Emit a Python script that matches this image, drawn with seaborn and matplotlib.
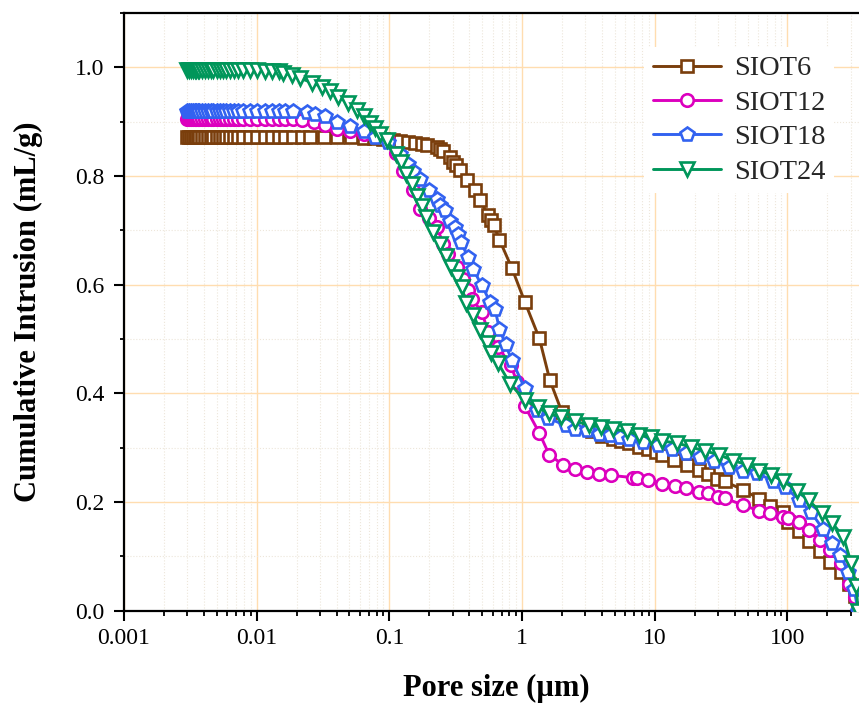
import numpy as np
import pandas as pd
import matplotlib
matplotlib.use("Agg")
import matplotlib.pyplot as plt
import seaborn as sns
from matplotlib.ticker import LogLocator, MultipleLocator, NullFormatter, FixedLocator, FixedFormatter

# ---------------- data ----------------
series_names = ["SIOT6", "SIOT12", "SIOT18", "SIOT24"]

x_siot6 = [0.0030, 0.0031, 0.0032, 0.0033, 0.0034, 0.0035, 0.0036, 0.0037, 0.0039, 0.0041,
           0.0043, 0.0045, 0.0047, 0.0050, 0.0053, 0.0056, 0.0059, 0.0063, 0.0067, 0.0072,
           0.0079, 0.0089, 0.0100, 0.0115, 0.0130, 0.0146, 0.0163, 0.0189, 0.0218, 0.0252,
           0.0320, 0.0400, 0.0510, 0.0640, 0.0760, 0.0900, 0.107, 0.120, 0.139, 0.156,
           0.176, 0.191, 0.228, 0.240, 0.254, 0.286, 0.302, 0.318, 0.339, 0.386,
           0.441, 0.481, 0.555, 0.588, 0.612, 0.674, 0.836, 1.05, 1.35, 1.62,
           2.0, 2.6, 3.35, 4.0, 4.84, 5.6, 6.44, 7.6, 8.95, 10.2,
           11.4, 14.0, 17.6, 21.4, 25.0, 29.3, 33.8, 46.5, 61.3, 73.8,
           92.0, 101, 122, 146, 176, 209, 252, 292, 323, 340]
y_siot6 = [0.871, 0.871, 0.871, 0.871, 0.871, 0.871, 0.871, 0.871, 0.871, 0.871,
           0.871, 0.871, 0.871, 0.871, 0.871, 0.871, 0.871, 0.871, 0.871, 0.871,
           0.871, 0.871, 0.871, 0.871, 0.871, 0.871, 0.871, 0.871, 0.871, 0.871,
           0.871, 0.871, 0.871, 0.870, 0.870, 0.869, 0.867, 0.865, 0.862, 0.860,
           0.858, 0.857, 0.853, 0.849, 0.846, 0.835, 0.826, 0.820, 0.811, 0.793,
           0.775, 0.755, 0.729, 0.719, 0.710, 0.683, 0.631, 0.568, 0.501, 0.424,
           0.365, 0.342, 0.330, 0.322, 0.316, 0.312, 0.308, 0.302, 0.297, 0.292,
           0.287, 0.278, 0.268, 0.259, 0.252, 0.243, 0.238, 0.222, 0.206, 0.193,
           0.182, 0.164, 0.146, 0.129, 0.110, 0.090, 0.072, 0.050, 0.027, 0.000]

x_siot12 = [0.0030, 0.0031, 0.0032, 0.0033, 0.0034, 0.0035, 0.0036, 0.0037, 0.0039, 0.0041,
            0.0043, 0.0045, 0.0047, 0.0050, 0.0053, 0.0056, 0.0059, 0.0063, 0.0067, 0.0072,
            0.0079, 0.0089, 0.0100, 0.0115, 0.0130, 0.0146, 0.0163, 0.0189, 0.0218, 0.0268,
            0.0328, 0.0400, 0.0507, 0.0640, 0.0780, 0.0980, 0.112, 0.127, 0.150, 0.170,
            0.198, 0.228, 0.255, 0.278, 0.321, 0.360, 0.392, 0.418, 0.497, 0.555,
            0.662, 0.820, 0.920, 1.05, 1.35, 1.60, 2.05, 2.52, 3.09, 3.79,
            4.7, 6.8, 7.3, 8.9, 11.3, 14.3, 17.3, 21.4, 25.1, 30.0,
            34.0, 46.5, 61.0, 74.0, 92.0, 101, 122, 146, 176, 209,
            252, 292, 323, 340]
y_siot12 = [0.904, 0.904, 0.904, 0.904, 0.904, 0.904, 0.904, 0.904, 0.904, 0.904,
            0.904, 0.904, 0.904, 0.904, 0.904, 0.904, 0.904, 0.904, 0.904, 0.904,
            0.904, 0.904, 0.904, 0.904, 0.904, 0.904, 0.904, 0.904, 0.903, 0.899,
            0.893, 0.886, 0.882, 0.877, 0.873, 0.867, 0.842, 0.810, 0.775, 0.740,
            0.722, 0.706, 0.675, 0.657, 0.632, 0.610, 0.590, 0.574, 0.550, 0.513,
            0.485, 0.452, 0.420, 0.376, 0.327, 0.287, 0.268, 0.261, 0.256, 0.252,
            0.249, 0.245, 0.244, 0.240, 0.234, 0.229, 0.226, 0.219, 0.217, 0.209,
            0.207, 0.194, 0.184, 0.179, 0.173, 0.171, 0.164, 0.148, 0.130, 0.112,
            0.087, 0.050, 0.026, 0.000]

x_siot18 = [0.0030, 0.0031, 0.0032, 0.0033, 0.0034, 0.0035, 0.0036, 0.0037, 0.0039, 0.0041,
            0.0043, 0.0045, 0.0047, 0.0050, 0.0053, 0.0056, 0.0059, 0.0063, 0.0067, 0.0072,
            0.0079, 0.0089, 0.0100, 0.0115, 0.0130, 0.0146, 0.0163, 0.0189, 0.0238, 0.0275,
            0.0326, 0.0400, 0.0507, 0.0640, 0.0779, 0.0980, 0.120, 0.139, 0.151, 0.170,
            0.200, 0.228, 0.240, 0.262, 0.286, 0.311, 0.330, 0.345, 0.392, 0.428,
            0.497, 0.574, 0.624, 0.674, 0.750, 0.836, 1.05, 1.29, 1.58, 2.14,
            2.5, 3.06, 3.79, 4.6, 5.5, 6.44, 8.2, 10.5, 13.4, 17.2,
            22.0, 28.1, 36.0, 45.9, 58.6, 78.3, 96.0, 123, 151, 185,
            215, 250, 286, 318, 340]
y_siot18 = [0.920, 0.920, 0.920, 0.920, 0.920, 0.920, 0.920, 0.920, 0.920, 0.920,
            0.920, 0.920, 0.920, 0.920, 0.920, 0.920, 0.920, 0.920, 0.920, 0.920,
            0.920, 0.920, 0.920, 0.920, 0.920, 0.920, 0.920, 0.920, 0.918, 0.914,
            0.911, 0.900, 0.892, 0.883, 0.871, 0.862, 0.840, 0.822, 0.810, 0.795,
            0.775, 0.758, 0.746, 0.737, 0.718, 0.706, 0.694, 0.678, 0.651, 0.628,
            0.599, 0.568, 0.556, 0.519, 0.490, 0.461, 0.409, 0.369, 0.354, 0.341,
            0.335, 0.332, 0.326, 0.323, 0.319, 0.316, 0.310, 0.305, 0.298, 0.290,
            0.283, 0.276, 0.265, 0.258, 0.253, 0.239, 0.228, 0.203, 0.181, 0.150,
            0.125, 0.103, 0.072, 0.040, 0.000]

x_siot24 = [0.0030, 0.0031, 0.0032, 0.0033, 0.0034, 0.0035, 0.0036, 0.0037, 0.0039, 0.0041,
            0.0043, 0.0045, 0.0047, 0.0050, 0.0053, 0.0056, 0.0059, 0.0063, 0.0067, 0.0072,
            0.0079, 0.0089, 0.0100, 0.0115, 0.0130, 0.0146, 0.0157, 0.0185, 0.0212, 0.0260,
            0.0310, 0.0356, 0.0410, 0.0490, 0.0570, 0.0640, 0.0710, 0.0780, 0.0850, 0.0955,
            0.113, 0.122, 0.134, 0.147, 0.161, 0.176, 0.190, 0.214, 0.240, 0.268,
            0.292, 0.321, 0.350, 0.380, 0.428, 0.482, 0.540, 0.588, 0.662, 0.811,
            1.05, 1.31, 1.60, 1.97, 2.52, 3.22, 3.94, 4.84, 6.19, 7.59,
            9.32, 11.4, 14.6, 18.7, 23.9, 30.5, 39.0, 49.9, 61.2, 75.1,
            92.2, 118, 145, 182, 218, 264, 302, 330, 340]
y_siot24 = [0.995, 0.995, 0.995, 0.995, 0.995, 0.995, 0.995, 0.995, 0.995, 0.995,
            0.995, 0.995, 0.995, 0.995, 0.995, 0.995, 0.995, 0.995, 0.995, 0.995,
            0.995, 0.995, 0.995, 0.994, 0.994, 0.993, 0.990, 0.985, 0.980, 0.972,
            0.964, 0.956, 0.945, 0.935, 0.922, 0.910, 0.898, 0.888, 0.878, 0.866,
            0.840, 0.825, 0.803, 0.785, 0.763, 0.744, 0.725, 0.697, 0.674, 0.652,
            0.633, 0.614, 0.596, 0.566, 0.545, 0.516, 0.492, 0.474, 0.455, 0.418,
            0.387, 0.374, 0.363, 0.356, 0.349, 0.341, 0.338, 0.334, 0.330, 0.323,
            0.319, 0.312, 0.309, 0.301, 0.294, 0.287, 0.276, 0.269, 0.258, 0.250,
            0.239, 0.221, 0.203, 0.179, 0.161, 0.136, 0.088, 0.045, 0.000]

x_tick_values = [0.001, 0.01, 0.1, 1, 10, 100]
x_tick_labels = ["0.001", "0.01", "0.1", "1", "10", "100"]
y_tick_values = [0.0, 0.2, 0.4, 0.6, 0.8, 1.0]
y_tick_labels = ["0.0", "0.2", "0.4", "0.6", "0.8", "1.0"]

colors = ["#7A3E0C", "#DC00BE", "#3262F0", "#00965A"]
markers = ["s", "o", "p", "v"]
msizes = [8.0, 9.0, 10.0, 10.0]

frames = []
for name, xs, ys in zip(series_names,
                        [x_siot6, x_siot12, x_siot18, x_siot24],
                        [y_siot6, y_siot12, y_siot18, y_siot24]):
    frames.append(pd.DataFrame({"pore": xs, "intr": ys, "sample": name}))
df = pd.concat(frames, ignore_index=True)

# ---------------- style ----------------
sns.set_theme(style="white")
plt.rcParams["font.family"] = ["Liberation Serif", "DejaVu Serif"]

W, H = 859, 707
fig = plt.figure(figsize=(W / 100, H / 100), dpi=100)
ax_l, ax_r, ax_t, ax_b = 124, 859, 13, 610.7
ax = fig.add_axes([ax_l / W, 1 - ax_b / H, (ax_r - ax_l) / W, (ax_b - ax_t) / H])
ax.set_facecolor("white")

for name, c, m, ms in zip(series_names, colors, markers, msizes):
    sub = df[df["sample"] == name]
    sns.lineplot(data=sub, x="pore", y="intr", ax=ax, color=c, marker=m,
                 markersize=ms, markerfacecolor="white", markeredgecolor=c,
                 markeredgewidth=1.9, linewidth=2.1, label=name,
                 estimator=None, sort=False, legend=False, zorder=3)

ax.set_xscale("log")
ax.set_xlim(0.001, 346)
ax.set_ylim(0, 1.1)

ax.xaxis.set_major_locator(FixedLocator(x_tick_values))
ax.xaxis.set_major_formatter(FixedFormatter(x_tick_labels))
ax.xaxis.set_minor_locator(LogLocator(base=10, subs=np.arange(2, 10), numticks=20))
ax.xaxis.set_minor_formatter(NullFormatter())
ax.yaxis.set_major_locator(FixedLocator(y_tick_values))
ax.yaxis.set_major_formatter(FixedFormatter(y_tick_labels))
ax.yaxis.set_minor_locator(MultipleLocator(0.1))

ax.grid(which="major", color="#FFDDB0", linewidth=1.0, linestyle="-")
ax.grid(which="minor", color="#EDE6DA", linewidth=0.8, linestyle=":")
ax.set_axisbelow(True)

for side in ["left", "bottom", "top"]:
    ax.spines[side].set_visible(True)
    ax.spines[side].set_color("black")
    ax.spines[side].set_linewidth(1.6)
ax.spines["right"].set_visible(False)

ax.tick_params(axis="both", which="major", direction="out", length=7.2, width=1.5,
               color="black", labelsize=17, labelcolor="black")
ax.tick_params(axis="x", which="major", pad=5)
ax.tick_params(axis="y", which="major", pad=7)
ax.tick_params(axis="x", which="minor", direction="out", length=3.8, width=1.3, color="black")
ax.tick_params(axis="y", which="minor", direction="out", length=3.0, width=1.3, color="black")
ax.tick_params(top=False, right=False, which="both")
ax.tick_params(bottom=True, left=True, which="both")

ax.set_xlabel("Pore size (\u00b5m)", fontsize=22, fontweight="bold", color="black")
ax.set_ylabel("Cumulative Intrusion (mL/g)", fontsize=22, fontweight="bold", color="black")
ax.xaxis.label.set_va("center")
ax.yaxis.label.set_va("center")
ax.xaxis.set_label_coords((496.5 - ax_l) / (ax_r - ax_l), (ax_b - 688) / (ax_b - ax_t))
ax.yaxis.set_label_coords((28 - ax_l) / (ax_r - ax_l), 0.5)

leg = ax.legend(loc="upper left",
                bbox_to_anchor=((644 - ax_l) / (ax_r - ax_l), (ax_b - 47) / (ax_b - ax_t)),
                borderaxespad=0, fontsize=20.5, frameon=True, fancybox=False,
                handlelength=2.4, handletextpad=0.45, labelspacing=0.3, borderpad=0.3)
leg.get_frame().set_facecolor("white")
leg.get_frame().set_edgecolor("none")
leg.get_frame().set_alpha(1.0)
leg.set_zorder(5)

fig.savefig("out.png", dpi=100, facecolor="white")
